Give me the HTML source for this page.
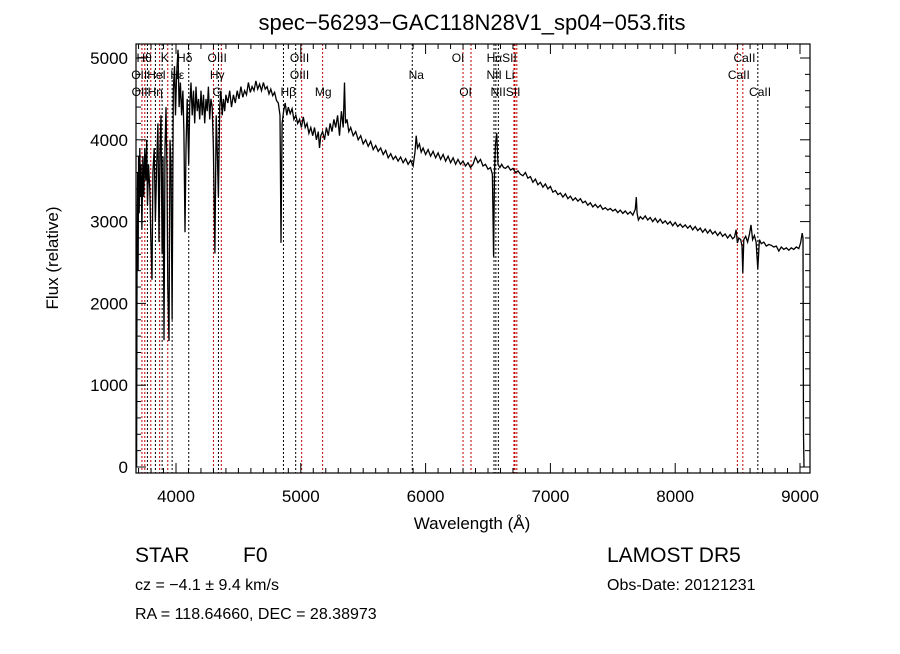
<!DOCTYPE html>
<html><head><meta charset="utf-8"><style>
body{margin:0;background:#fff;}
svg text{font-family:"Liberation Sans","DejaVu Sans",sans-serif;}
</style></head><body>
<svg id="chart" width="900" height="649" viewBox="0 0 900 649" xmlns="http://www.w3.org/2000/svg">
<rect width="900" height="649" fill="#fff"/>
<text x="472" y="30" font-size="22" text-anchor="middle">spec−56293−GAC118N28V1_sp04−053.fits</text>
<g id="lines"></g>
<g id="labels"></g>
<g id="spec"></g>
<g id="axes"></g>
<text x="472" y="529" font-size="17" text-anchor="middle">Wavelength (Å)</text>
<text transform="translate(58,258) rotate(-90)" font-size="17" text-anchor="middle">Flux (relative)</text>
<text x="135" y="562" font-size="21">STAR</text>
<text x="243" y="562" font-size="21">F0</text>
<text x="135" y="590" font-size="16">cz = −4.1 ± 9.4 km/s</text>
<text x="135" y="619" font-size="16">RA = 118.64660, DEC =  28.38973</text>
<text x="607" y="562" font-size="21">LAMOST DR5</text>
<text x="607" y="590" font-size="16">Obs-Date: 20121231</text>
</svg>
<script>
const waves=[
3684,3688,3692,3696,3700,3705,3710,3715,3720,3727,
3735,3742,3750,3758,3765,3772,3780,3790,3798,3808,
3815,3825,3835,3845,3855,3864,3872,3880,3889,3896,
3904,3912,3920,3928,3934,3944,3952,3960,3969,3978,
3988,3996,4005,4016,4025,4035,4045,4055,4063,4072,
4080,4090,4102,4110,4120,4130,4140,4150,4160,4170,
4180,4190,4200,4210,4220,4230,4240,4250,4260,4270,
4280,4290,4300,4312,4322,4332,4340,4350,4360,4370,
4380,4390,4400,4415,4430,4445,4460,4475,4490,4505,
4520,4535,4550,4565,4580,4595,4610,4625,4640,4655,
4670,4685,4700,4715,4730,4745,4760,4775,4790,4805,
4820,4833,4841,4850,4862,4875,4888,4900,4915,4930,
4945,4960,4975,4990,5005,5020,5035,5050,5065,5080,
5095,5110,5125,5140,5150,5160,5175,5190,5205,5220,
5235,5250,5265,5280,5295,5310,5325,5340,5350,5358,
5370,5385,5400,5420,5440,5460,5480,5500,5520,5540,
5560,5580,5600,5620,5640,5660,5680,5700,5720,5740,
5760,5780,5800,5820,5840,5860,5880,5900,5915,5925,
5935,5950,5965,5980,6000,6020,6040,6060,6080,6100,
6120,6140,6160,6180,6200,6220,6240,6260,6280,6300,
6320,6340,6360,6380,6400,6420,6440,6460,6480,6500,
6520,6535,6545,6552,6560,6570,6580,6595,6610,6625,
6640,6660,6680,6700,6720,6740,6760,6780,6800,6820,
6840,6860,6880,6900,6920,6940,6960,6980,7000,7020,
7040,7060,7080,7100,7120,7140,7160,7180,7200,7220,
7240,7260,7280,7300,7320,7340,7360,7380,7400,7420,
7440,7460,7480,7500,7520,7540,7560,7580,7600,7620,
7640,7660,7680,7688,7695,7705,7720,7740,7760,7780,
7800,7820,7840,7860,7880,7900,7920,7940,7960,7980,
8000,8020,8040,8060,8080,8100,8120,8140,8160,8180,
8200,8220,8240,8260,8280,8300,8320,8340,8360,8380,
8400,8420,8440,8460,8475,8488,8498,8510,8525,8535,
8542,8550,8565,8580,8595,8607,8620,8635,8648,8662,
8675,8690,8710,8730,8750,8770,8790,8810,8830,8850,
8870,8890,8910,8930,8950,8970,8990,9005,9018,9024,
9028,9032];
const fluxes=[
0,2770,3600,2400,3800,3100,3900,3300,3700,2900,
3800,3300,3900,3500,4000,3200,3700,3400,2800,2290,
3600,3900,3000,3700,4200,2750,3900,4300,2600,3800,
1550,3900,4400,3600,2200,1540,4000,3700,1800,4600,
4900,4300,4800,5100,4400,4700,4300,4600,4100,2870,
3900,4500,3700,4400,4700,4300,4600,4200,4650,4350,
4500,4250,4600,4300,4550,4200,4500,4350,4650,4250,
4500,4400,3900,2610,4300,3800,3300,4400,4600,4300,
4500,4350,4550,4450,4600,4400,4550,4450,4600,4500,
4650,4520,4600,4550,4700,4580,4650,4600,4720,4620,
4680,4600,4700,4620,4650,4560,4620,4540,4580,4480,
4450,4300,2740,4200,4350,4450,4300,4400,4320,4380,
4250,4300,4200,4250,4150,4280,4150,4200,4080,4150,
4050,4150,4000,4100,3900,4050,4100,4000,4150,4050,
4200,4100,4250,4150,4300,4050,4350,4150,4700,4200,
4250,4100,4150,4050,4100,4000,4050,3950,4000,3920,
3980,3880,3930,3860,3900,3820,3870,3780,3830,3760,
3800,3740,3790,3720,3770,3700,3750,3680,3850,4050,
3900,3950,3850,3900,3820,3880,3800,3860,3780,3840,
3760,3820,3740,3800,3720,3780,3700,3760,3700,3740,
3680,3720,3660,3700,3790,3720,3760,3680,3700,3640,
3660,3580,2570,3600,3950,4080,3700,3660,3700,3660,
3650,3680,3630,3650,3600,3620,3580,3560,3600,3530,
3550,3480,3520,3450,3480,3420,3460,3400,3430,3360,
3380,3330,3350,3300,3340,3280,3310,3260,3290,3250,
3280,3230,3250,3200,3230,3180,3210,3170,3200,3150,
3170,3140,3160,3130,3150,3110,3140,3100,3130,3090,
3120,3080,3150,3300,3100,3020,3060,3030,3070,3020,
3050,3000,3040,2990,3030,2980,3010,2970,3000,2950,
2990,2940,2970,2930,2960,2920,2950,2900,2940,2890,
2920,2870,2910,2860,2900,2850,2880,2830,2870,2820,
2850,2800,2840,2790,2810,2900,2740,2800,2780,2700,
2370,2780,2820,2750,2850,2960,2780,2830,2750,2420,
2780,2730,2750,2700,2720,2710,2690,2700,2640,2690,
2660,2680,2650,2680,2660,2690,2670,2740,2860,2800,
400,0];
const xTicks=[4000,5000,6000,7000,8000,9000];
const yTicks=[0,1000,2000,3000,4000,5000];
const lineWaves=[3727,3750,3771,3798,3835,3869,3889,3934,3969,4102,4300,4340,4363,4861,4959,5007,5175,5893,6300,6364,6548,6563,6583,6708,6716,6731,8498,8542,8662];
const lineColors=["r","r","k","r","k","r","k","r","k","k","r","k","r","k","k","r","r","k","r","r","k","k","k","r","r","r","r","r","k"];
const labelTexts=["Hθ","K","Hδ","OIII","OIII","OI","HαSII","CaII","OIIHeI","Hε","Hγ","OIII","Na","NII Li","CaII","OIIHη","G","Hβ","Mg","OI","NIISII","CaII"];
const labelWaves=[3745,3910,4070,4330,4990,6260,6610,8555,3780,4010,4330,4990,5925,6600,8510,3770,4330,4900,5180,6320,6640,8680];
const labelRows=[0,0,0,0,0,0,0,0,1,1,1,1,1,1,1,2,2,2,2,2,2,2];

const L=136,R=810,T=44,B=473;
const X=w=>176+(w-4000)*0.1248;
const Y=f=>467-f*0.0818;
const NS="http://www.w3.org/2000/svg";
function mk(tag,attrs,parent){const e=document.createElementNS(NS,tag);for(const k in attrs)e.setAttribute(k,attrs[k]);parent.appendChild(e);return e;}
const gl=document.getElementById('lines');
lineWaves.forEach((w,i)=>{
  const e=mk('line',{x1:X(w),x2:X(w),y1:T,y2:B,stroke:lineColors[i]==='r'?'#c00000':'#000','stroke-width':1,'stroke-dasharray':'2,2'},gl);
  
  
});
const glab=document.getElementById('labels');
const rowY=[62,79,96];
labelTexts.forEach((t,i)=>{
  const e=mk('text',{x:X(labelWaves[i]),y:rowY[labelRows[i]],'font-size':12,'text-anchor':'middle'},glab);
  e.textContent=t;
  
  
});
const gs=document.getElementById('spec');
let d='';
const n=Math.min(waves.length,fluxes.length);
for(let i=0;i<n;i++){d+=(i?'L':'M')+X(waves[i]).toFixed(1)+','+Math.min(Y(fluxes[i]),B).toFixed(1);}
const p=mk('path',{d:d,fill:'none',stroke:'#000','stroke-width':1.3,'stroke-linejoin':'miter'},gs);


const ga=document.getElementById('axes');
const fr=mk('rect',{x:L,y:T,width:R-L,height:B-T,fill:'none',stroke:'#000','stroke-width':1.2},ga);


for(let w=3700;w<=9050;w+=100){
  const len=(w%1000===0)?10:5;
  mk('line',{x1:X(w),x2:X(w),y1:B,y2:B-len,stroke:'#000'},ga);
  mk('line',{x1:X(w),x2:X(w),y1:T,y2:T+len,stroke:'#000'},ga);
}
for(let f=0;f<=5100;f+=200){
  const len=(f%1000===0)?10:5;
  mk('line',{x1:L,x2:L+len,y1:Y(f),y2:Y(f),stroke:'#000'},ga);
  mk('line',{x1:R,x2:R-len,y1:Y(f),y2:Y(f),stroke:'#000'},ga);
}
xTicks.forEach(v=>{
  const e=mk('text',{x:X(v),y:502,'font-size':17,'text-anchor':'middle'},ga);
  e.textContent=v;
  
  
});
yTicks.forEach(v=>{
  const e=mk('text',{x:128,y:Y(v)+6,'font-size':17,'text-anchor':'end'},ga);
  e.textContent=v;
  
  
});
</script>
</body></html>
